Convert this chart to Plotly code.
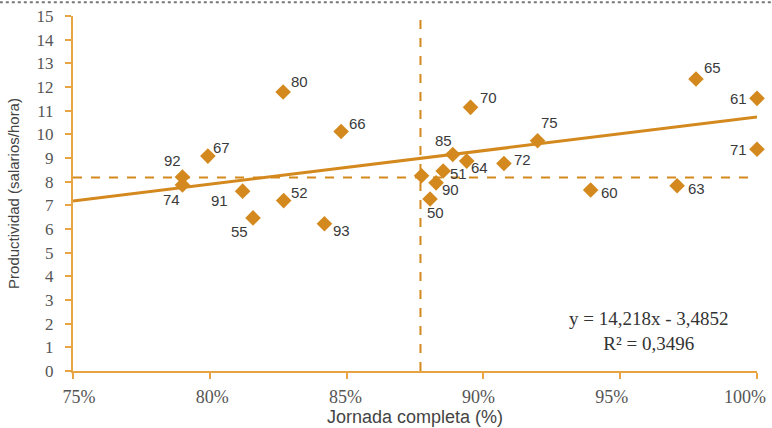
import plotly.graph_objects as go

labels = ["92", "74", "67", "80", "66", "91", "52", "55", "93", "", "50", "90", "51",
          "85", "64", "72", "75", "70", "60", "63", "65", "61", "71"]
jornada = [0.790, 0.790, 0.7993, 0.8268, 0.848, 0.812, 0.827, 0.8158, 0.8419, 0.8774, 0.8805, 0.8827, 0.8853,
           0.8888, 0.8939, 0.9075, 0.9198, 0.8953, 0.9392, 0.9708, 0.9777, 1.0, 1.0]
productividad = [8.20, 7.86, 9.08, 11.79, 10.12, 7.60, 7.20, 6.47, 6.22, 8.25, 7.27, 7.95, 8.45,
                 9.15, 8.87, 8.77, 9.73, 11.14, 7.65, 7.83, 12.34, 11.52, 9.37]
# label offsets (px) relative to each marker: (dx, dy), dy positive = downwards
label_offsets = [(-10, -16), (-11, 15), (14, -9), (16, -10), (16, -8), (-23, 9), (16, -8),
                 (-14, 14), (17, 7), (0, 0), (5, 14), (14, 7), (15, 2), (-9, -14), (13, 6),
                 (19, -4), (12, -18), (18, -10), (19, 3), (19, 3), (17, -11), (-19, 0), (-19, 0)]

slope, intercept = 14.218, -3.4852
trend_x = [0.75, 1.0]
mean_x = 0.877
mean_y = 8.18
x_ticks = [0.75, 0.80, 0.85, 0.90, 0.95, 1.00]
x_tick_text = ["75%", "80%", "85%", "90%", "95%", "100%"]
y_ticks = list(range(0, 16))

orange = "#D4891F"
axis_col = "#E8A443"
serif = "Liberation Serif, Georgia, serif"
sans = "Liberation Sans, Arial, sans-serif"

fig = go.Figure()
fig.add_trace(go.Scatter(
    x=[mean_x, mean_x], y=[0, 15], mode="lines",
    line=dict(color=orange, width=2, dash="dash"), hoverinfo="skip"))
fig.add_trace(go.Scatter(
    x=[0.75, 1.0], y=[mean_y, mean_y], mode="lines",
    line=dict(color=orange, width=2, dash="dash"), hoverinfo="skip"))
fig.add_trace(go.Scatter(
    x=trend_x, y=[slope * v + intercept for v in trend_x], mode="lines",
    line=dict(color=orange, width=3), hoverinfo="skip"))
fig.add_trace(go.Scatter(
    x=jornada, y=productividad, mode="markers",
    marker=dict(symbol="diamond", size=12, color=orange),
    cliponaxis=False))
# invisible trace to carry the slightly compressed tick-label axis (as in the original)
fig.add_trace(go.Scatter(x=[0.75, 1.0], y=[0, 0], xaxis="x2", mode="markers",
                         marker=dict(opacity=0), hoverinfo="skip"))

for xv, yv, lab, (dx, dy) in zip(jornada, productividad, labels, label_offsets):
    if lab:
        fig.add_annotation(x=xv, y=yv, xref="x", yref="y", text=lab, showarrow=False,
                           xshift=dx, yshift=-dy,
                           font=dict(family=sans, size=15, color="#3a3a3a"))

fig.add_annotation(
    x=0.9607, y=1.68, xref="x", yref="y",
    text="y = 14,218x - 3,4852<br>R² = 0,3496",
    showarrow=False, align="center",
    font=dict(family=serif, size=19, color="#333333"))

fig.add_shape(type="line", xref="paper", yref="paper", x0=-0.107, x1=1.022, y0=1.039, y1=1.039,
              line=dict(color="#777777", width=2, dash="dot"))

fig.update_layout(
    width=772, height=428,
    margin=dict(l=73, r=15, t=16, b=57),
    plot_bgcolor="white", paper_bgcolor="white",
    showlegend=False,
    xaxis=dict(range=[0.75, 1.0], tickvals=x_ticks, automargin=False, showticklabels=False,
               showgrid=False, zeroline=False, showline=True, linecolor=axis_col, linewidth=2,
               ticks="outside", ticklen=6, tickwidth=2, tickcolor=axis_col),
    xaxis2=dict(range=[0.74775, 1.0045], overlaying="x", side="bottom", anchor="y",
                tickvals=x_ticks, ticktext=x_tick_text, automargin=False,
                showgrid=False, zeroline=False, showline=False, ticks="outside", ticklen=6,
                tickcolor="rgba(0,0,0,0)", ticklabelstandoff=3, ticklabeloverflow="allow",
                tickfont=dict(family=serif, size=18, color="#555555"),
                title=dict(text="Jornada completa (%)", standoff=2,
                           font=dict(family=sans, size=18, color="#444444"))),
    yaxis=dict(range=[0, 15], tickvals=y_ticks, automargin=False,
               showgrid=False, zeroline=False, showline=True, linecolor=axis_col, linewidth=2,
               ticks="outside", ticklen=6, tickwidth=2, tickcolor=axis_col, ticklabelstandoff=8,
               tickfont=dict(family=serif, size=17, color="#555555"),
               title=dict(text="Productividad (salarios/hora)", standoff=13,
                          font=dict(family=sans, size=15, color="#444444"))),
)

fig.write_html("out.html", config={"displayModeBar": False},
               post_script="document.body.style.margin='0';")
